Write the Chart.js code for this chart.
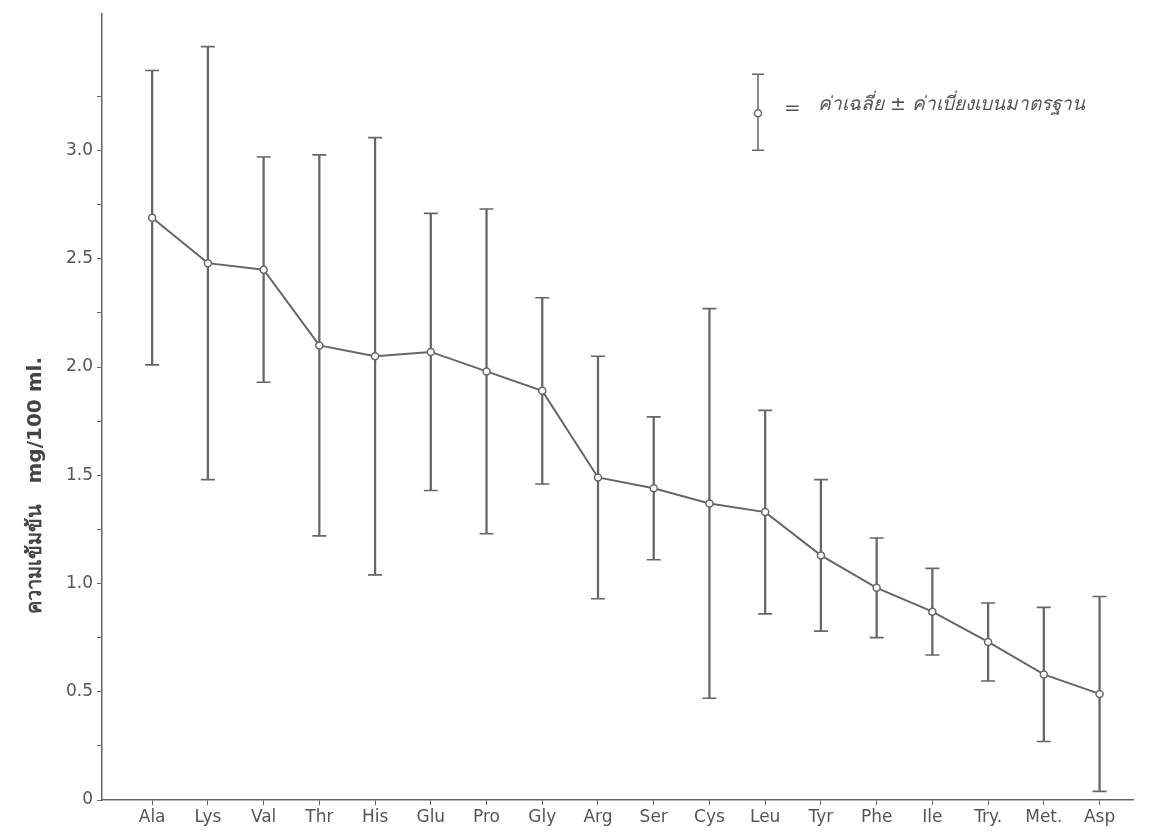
<!DOCTYPE html>
<html>
<head>
<meta charset="utf-8">
<script src="https://cdn.jsdelivr.net/npm/chart.js@4.4.1/dist/chart.umd.min.js"></script>
<style>
  html, body { margin: 0; background: #fff; }
  #wrap { width: 1149px; height: 832px; }
</style>
</head>
<body>
<div id="wrap"><canvas id="aminoChart"></canvas></div>
<script>
const categories = ['Ala', 'Lys', 'Val', 'Thr', 'His', 'Glu', 'Pro', 'Gly', 'Arg', 'Ser', 'Cys', 'Leu', 'Tyr', 'Phe', 'Ile', 'Try.', 'Met.', 'Asp'];
const means = [2.69, 2.48, 2.45, 2.10, 2.05, 2.07, 1.98, 1.89, 1.49, 1.44, 1.37, 1.33, 1.13, 0.98, 0.87, 0.73, 0.58, 0.49];
const sds = [0.68, 1.00, 0.52, 0.88, 1.01, 0.64, 0.75, 0.43, 0.56, 0.33, 0.90, 0.47, 0.35, 0.23, 0.20, 0.18, 0.31, 0.45];
const yTicks = [0, 0.25, 0.5, 0.75, 1.0, 1.25, 1.5, 1.75, 2.0, 2.25, 2.5, 2.75, 3.0, 3.25];
const yTitle = 'ความเข้มข้น   mg/100 ml.';
const legendText = 'ค่าเฉลี่ย ± ค่าเบี่ยงเบนมาตรฐาน';

const ink = '#666';
const textInk = '#555';
const baseFont = '"DejaVu Sans", "Noto Sans", sans-serif';

const upper = means.map((m, i) => ({ x: i, y: m + sds[i] }));
const lower = means.map((m, i) => ({ x: i, y: m - sds[i] }));

// y-axis title and the error-bar key, drawn on top of the chart
const notes = {
    id: 'notes',
    afterDraw(chart) {
        const { ctx, chartArea: a } = chart;
        ctx.save();
        ctx.translate(a.left - 66, a.top + (a.bottom - a.top) * 0.6);
        ctx.rotate(-Math.PI / 2);
        ctx.textAlign = 'center';
        ctx.textBaseline = 'middle';
        ctx.fillStyle = '#444';
        ctx.font = 'bold 20px ' + baseFont;
        ctx.fillText(yTitle, 0, 0);
        ctx.restore();

        const lx = a.left + 656, top = a.top + 60, mid = a.top + 99, bot = a.top + 136;
        ctx.save();
        ctx.strokeStyle = ink;
        ctx.lineWidth = 1.5;
        ctx.beginPath();
        ctx.moveTo(lx, top); ctx.lineTo(lx, bot);
        ctx.moveTo(lx - 6, top); ctx.lineTo(lx + 6, top);
        ctx.moveTo(lx - 6, bot); ctx.lineTo(lx + 6, bot);
        ctx.stroke();
        ctx.beginPath();
        ctx.arc(lx, mid, 3.5, 0, Math.PI * 2);
        ctx.fillStyle = '#fff';
        ctx.fill();
        ctx.stroke();
        ctx.fillStyle = textInk;
        ctx.textBaseline = 'middle';
        ctx.font = '20px ' + baseFont;
        ctx.fillText('=', lx + 26, mid - 4);
        ctx.font = 'italic 19px ' + baseFont;
        ctx.fillText(legendText, lx + 60, mid - 8);
        ctx.restore();
    }
};

const ctx = document.querySelector('#aminoChart').getContext('2d');
const aminoChart = new Chart(ctx, {
    type: 'line',
    data: {
        datasets: [
            {
                type: 'line',
                data: means.map((m, i) => ({ x: i, y: m })),
                borderColor: ink,
                borderWidth: 2,
                pointRadius: 3.5,
                pointBackgroundColor: '#fff',
                pointBorderColor: ink,
                pointBorderWidth: 1.5,
                tension: 0,
                order: 0
            },
            {
                type: 'bar',
                data: means.map((m, i) => ({ x: i, y: [m - sds[i], m + sds[i]] })),
                backgroundColor: ink,
                barThickness: 1.6,
                order: 2
            },
            {
                type: 'scatter',
                data: upper,
                pointStyle: 'line',
                pointRadius: 7,
                borderColor: ink,
                borderWidth: 1.6,
                order: 1
            },
            {
                type: 'scatter',
                data: lower,
                pointStyle: 'line',
                pointRadius: 7,
                borderColor: ink,
                borderWidth: 1.6,
                order: 1
            }
        ]
    },
    options: {
        responsive: true,
        maintainAspectRatio: false,
        animation: false,
        layout: { padding: { top: 13, right: 16, left: 0, bottom: 0 } },
        plugins: {
            legend: { display: false },
            tooltip: { enabled: false }
        },
        scales: {
            x: {
                type: 'linear',
                offset: false,
                min: -0.9,
                max: 17.6,
                afterBuildTicks: axis => { axis.ticks = categories.map((c, i) => ({ value: i })); },
                afterFit: axis => { axis.height = 32; },
                ticks: {
                    callback: v => categories[v],
                    autoSkip: false,
                    maxRotation: 0,
                    padding: 2,
                    color: textInk,
                    font: { family: baseFont, size: 17 }
                },
                grid: { offset: false, drawOnChartArea: false, tickLength: 5, color: ink },
                border: { color: ink, width: 1.5 }
            },
            y: {
                min: 0,
                max: 3.63,
                afterBuildTicks: axis => { axis.ticks = yTicks.map(v => ({ value: v })); },
                afterFit: axis => { axis.width = 102; },
                ticks: {
                    callback: v => v === 0 ? '0' : (Math.abs(v * 2 - Math.round(v * 2)) < 1e-6 ? v.toFixed(1) : ''),
                    padding: 4,
                    color: textInk,
                    font: { family: baseFont, size: 17 }
                },
                grid: { drawOnChartArea: false, tickLength: 5, color: ink },
                border: { color: ink, width: 1.5 }
            }
        }
    },
    plugins: [notes]
});
</script>
</body>
</html>
